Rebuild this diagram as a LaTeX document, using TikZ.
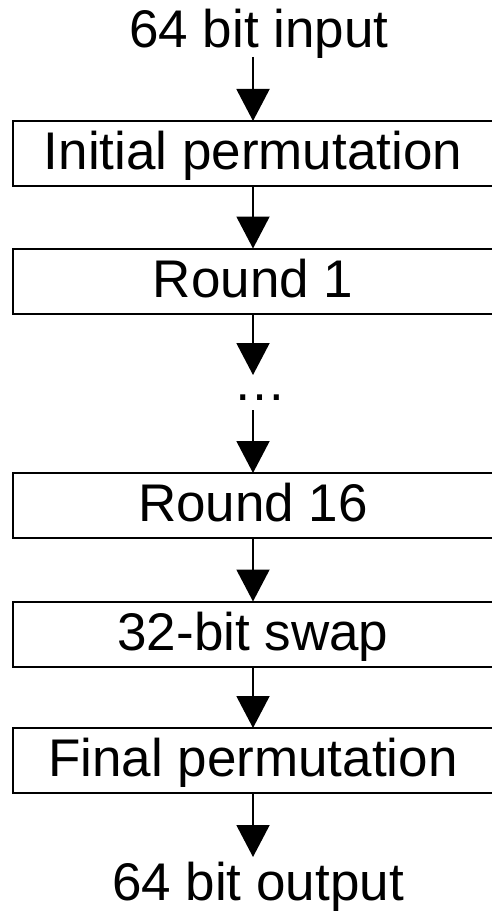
\documentclass[tikz,border=0pt]{standalone}
\usepackage{fontspec}
\setmainfont{Liberation Sans}
\usetikzlibrary{arrows.meta}
\newcommand\bigtext{\fontsize{53}{63}\selectfont}
\begin{document}
\begin{tikzpicture}[x=1pt,y=-1pt,
  stage/.style={draw, line width=2pt, minimum width=480pt, minimum height=65pt,
    inner sep=0pt, outer sep=0pt, text height=43pt, text depth=11pt, font=\bigtext},
  endtext/.style={anchor=base, inner sep=0pt, font=\bigtext},
  flow/.style={line width=2pt, -{Triangle[length=32pt,width=33pt]}}]
  \useasboundingbox (0,0) rectangle (492,923);

  % input and output labels
  \node[endtext] (in)  at (259,47.5) {64 bit input};
  \node[endtext] (out) at (258,900)  {64 bit output};

  % processing stages
  \node[stage] (ip)   at (253,153.5) {Initial permutation};
  \node[stage] (r1)   at (253,281)   {Round 1};
  \node[endtext] (dots) at (260,400) {…};
  \node[stage] (r16)  at (253,505.5) {Round 16};
  \node[stage] (swap) at (253,634)   {32-bit swap};
  \node[stage] (fp)   at (253,760.5) {Final permutation};

  % free ends of the connectors
  \coordinate (inend)    at (253,57);
  \coordinate (dotsin)   at (253,375);
  \coordinate (dotsout)  at (253,410);
  \coordinate (outend)   at (253,857);

  % data flow
  \draw[flow] (inend) -- (ip.north);
  \draw[flow] (ip.south) -- (r1.north);
  \draw[flow] (r1.south) -- (dotsin);
  \draw[flow] (dotsout) -- (r16.north);
  \draw[flow] (r16.south) -- (swap.north);
  \draw[flow] (swap.south) -- (fp.north);
  \draw[flow] (fp.south) -- (outend);
\end{tikzpicture}
\end{document}
